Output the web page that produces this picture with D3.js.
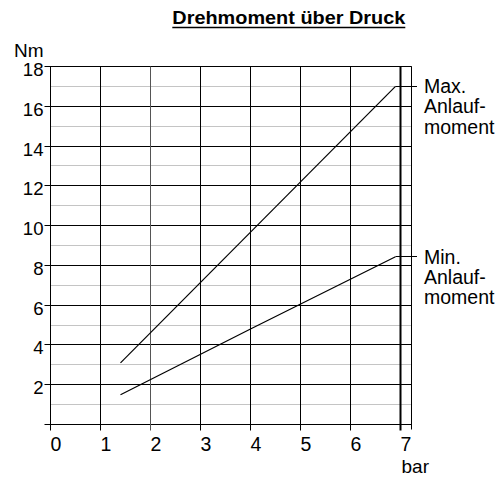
<!DOCTYPE html>
<html>
<head>
<meta charset="utf-8">
<script src="https://cdn.jsdelivr.net/npm/d3@7"></script>
<style>
  body { margin: 0; background: #fff; }
  text { font-family: "Liberation Sans", Arial, sans-serif; fill: #000; }
</style>
</head>
<body>
<div id="chart"></div>
<script>
// tick values
var pressureTicks = [0, 1, 2, 3, 4, 5, 6, 7];
var torqueMajor = [0, 2, 4, 6, 8, 10, 12, 14, 16, 18];
var torqueMinor = [1, 3, 5, 7, 9, 11, 13, 15, 17];

// series
var maxPressure = [1.4, 6.9];
var maxTorque = [3.1, 17.0];
var minPressure = [1.4, 4, 6.9];
var minTorque = [1.5, 4.8, 8.43];

var labelMax = ["Max.", "Anlauf-", "moment"];
var labelMin = ["Min.", "Anlauf-", "moment"];

var width = 501, height = 477;

var svg = d3.select("#chart")
    .append("svg")
    .attr("width", width)
    .attr("height", height);

var x = d3.scaleLinear()
    .domain([0, 7])
    .range([50.5, 400.5]);

var y = d3.scaleLinear()
    .domain([0, 18])
    .range([424.5, 66.5]);

var crisp = function (v) { return Math.round(v - 0.5) + 0.5; };

var xRight = x(7.225);   // right border of the grid
var xLead = x(7.33);     // end of the label leader lines

// minor horizontal grid (grey)
svg.append("g")
    .selectAll("line")
    .data(torqueMinor)
    .enter()
    .append("line")
    .attr("x1", x(0))
    .attr("x2", xRight)
    .attr("y1", d => crisp(y(d)))
    .attr("y2", d => crisp(y(d)))
    .style("stroke", "#c4c4c4")
    .style("stroke-width", 1.2);

// major horizontal grid + left ticks
svg.append("g")
    .selectAll("line")
    .data(torqueMajor)
    .enter()
    .append("line")
    .attr("x1", x(0) - 6)
    .attr("x2", xRight)
    .attr("y1", d => crisp(y(d)))
    .attr("y2", d => crisp(y(d)))
    .style("stroke", "#000")
    .style("stroke-width", 1);

// vertical grid + bottom ticks
svg.append("g")
    .selectAll("line")
    .data(pressureTicks)
    .enter()
    .append("line")
    .attr("x1", d => x(d))
    .attr("x2", d => x(d))
    .attr("y1", crisp(y(18)))
    .attr("y2", crisp(y(0)) + 6)
    .style("stroke", d => d === 2 ? "#555" : "#000")
    .style("stroke-width", d => d === 7 ? 2 : 1);

// right border
svg.append("line")
    .attr("x1", crisp(xRight))
    .attr("x2", crisp(xRight))
    .attr("y1", crisp(y(18)))
    .attr("y2", crisp(y(0)) + 5)
    .style("stroke", "#000")
    .style("stroke-width", 1);

// y tick labels
svg.append("g")
    .selectAll("text")
    .data(torqueMajor.filter(d => d > 0))
    .enter()
    .append("text")
    .attr("x", 43.5)
    .attr("y", d => y(d) + 3)
    .attr("dy", "0.35em")
    .attr("text-anchor", "end")
    .style("font-size", "18.6px")
    .text(d => d);

// x tick labels
svg.append("g")
    .selectAll("text")
    .data(pressureTicks)
    .enter()
    .append("text")
    .attr("x", d => x(d) + 5.5)
    .attr("y", 451)
    .attr("text-anchor", "middle")
    .style("font-size", "19.5px")
    .text(d => d);

// axis units
svg.append("text")
    .attr("x", 14)
    .attr("y", 56.7)
    .style("font-size", "19px")
    .text("Nm");

svg.append("text")
    .attr("x", 401.5)
    .attr("y", 472.5)
    .style("font-size", "19px")
    .text("bar");

// title, underlined
svg.append("text")
    .attr("x", 172.3)
    .attr("y", 24.3)
    .attr("textLength", 233)
    .attr("lengthAdjust", "spacingAndGlyphs")
    .style("font-size", "18.5px")
    .style("font-weight", "bold")
    .text("Drehmoment über Druck");

svg.append("line")
    .attr("x1", 172.3)
    .attr("x2", 405.3)
    .attr("y1", 27.5)
    .attr("y2", 27.5)
    .style("stroke", "#000")
    .style("stroke-width", 1.6);

// curves with leader to the label
var line = d3.line()
    .x(d => x(d[0]))
    .y(d => y(d[1]));

function drawSeries(px, py, label) {
    var pts = px.map((p, i) => [p, py[i]]);
    var last = pts[pts.length - 1];
    svg.append("path")
        .datum(pts)
        .attr("d", line)
        .style("fill", "none")
        .style("stroke", "#000")
        .style("stroke-width", 1.2);
    svg.append("line")
        .attr("x1", x(last[0]))
        .attr("x2", xLead)
        .attr("y1", crisp(y(last[1])))
        .attr("y2", crisp(y(last[1])))
        .style("stroke", "#000")
        .style("stroke-width", 1);
    svg.append("g")
        .selectAll("text")
        .data(label)
        .enter()
        .append("text")
        .attr("x", 424)
        .attr("y", (d, i) => y(last[1]) + 6.7 + i * 20.4)
        .style("font-size", "19.5px")
        .text(d => d);
}

drawSeries(maxPressure, maxTorque, labelMax);
drawSeries(minPressure, minTorque, labelMin);
</script>
</body>
</html>
